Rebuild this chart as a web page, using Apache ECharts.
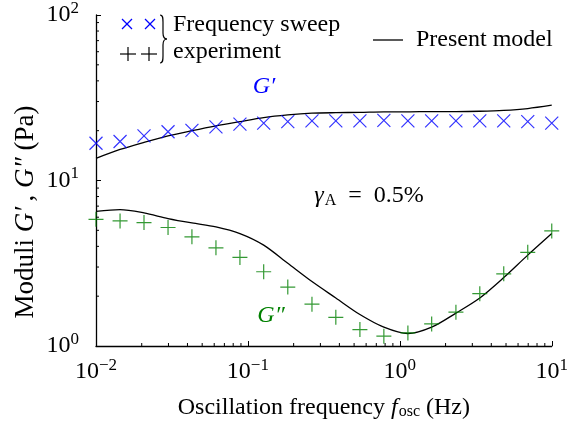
<!DOCTYPE html>
<html>
<head>
<meta charset="utf-8">
<script src="https://cdn.jsdelivr.net/npm/echarts@6/dist/echarts.min.js"></script>
<style>
  html, body { margin: 0; padding: 0; background: #fff; }
  #chart { width: 571px; height: 426px; }
</style>
</head>
<body>
<div id="chart"></div>
<script>
// oscillation frequency (Hz), same grid for sweep and model
const freq = [0.01, 0.0144, 0.0207, 0.0298, 0.0428, 0.0616, 0.0886, 0.127, 0.183, 0.264,
              0.379, 0.546, 0.785, 1.13, 1.62, 2.34, 3.36, 4.83, 6.95, 10];
// frequency sweep experiment (Pa)
const gStorageExp = [16.8, 17.2, 18.6, 19.7, 20.1, 21.1, 21.9, 22.2, 22.7, 22.9,
                     22.9, 22.9, 23.1, 22.9, 22.9, 22.9, 22.9, 22.9, 22.7, 22.2];
const gLossExp = [5.83, 5.70, 5.57, 5.20, 4.57, 3.92, 3.43, 2.81, 2.27, 1.79,
                  1.49, 1.256, 1.146, 1.20, 1.36, 1.60, 2.07, 2.73, 3.68, 4.96];
// present model (Pa)
const gStorageModel = [13.6, 15.4, 17.0, 18.6, 20.0, 21.4, 22.7, 24.0, 24.9, 25.5,
                       25.7, 25.8, 26.0, 26.0, 26.1, 26.1, 26.2, 26.5, 27.2, 28.5];
const gLossModel = [6.51, 6.67, 6.37, 5.89, 5.54, 5.25, 4.78, 4.07, 3.16, 2.45,
                    1.95, 1.55, 1.30, 1.19, 1.30, 1.58, 1.95, 2.59, 3.54, 4.78];
// minor tick positions
const xMinor = [0.02, 0.03, 0.04, 0.05, 0.06, 0.07, 0.08, 0.09,
                0.2, 0.3, 0.4, 0.5, 0.6, 0.7, 0.8, 0.9,
                2, 3, 4, 5, 6, 7, 8, 9];
const yMinor = [2, 3, 4, 5, 6, 7, 8, 9, 20, 30, 40, 50, 60, 70, 80, 90];

const FONT = 'Liberation Serif';
const BLUE = '#0000ff';
const GREEN = '#008000';
const CROSS = 'path://M0,0 L10,10 M10,0 L0,10';
const PLUS = 'path://M5,0 L5,10 M0,5 L10,5';

const pair = (xs, ys) => xs.map((x, i) => [x, ys[i]]);

const chart = echarts.init(document.getElementById('chart'), null, { renderer: 'canvas' });

function powLabel(v) {
  const e = Math.round(Math.log10(v));
  return '10{s|' + (e < 0 ? '\u2212' + (-e) : e) + '}';
}
const labelRich = {
  s: { fontSize: 17, fontFamily: FONT, color: '#000', padding: [0, 0, 13, 0] }
};

function tickItem(isX) {
  return function (params, api) {
    const p = api.coord([api.value(0), api.value(1)]);
    const len = 3;
    return {
      type: 'line',
      shape: isX ? { x1: p[0], y1: p[1], x2: p[0], y2: p[1] - len }
                 : { x1: p[0], y1: p[1], x2: p[0] + len, y2: p[1] },
      style: { stroke: '#000', lineWidth: 1 },
      silent: true
    };
  };
}

// small helpers for the hand-made legend
const seg = (x1, y1, x2, y2, color) => ({
  type: 'line', shape: { x1, y1, x2, y2 }, style: { stroke: color, lineWidth: 1.2 }, silent: true
});
const curve = (x1, y1, cpx1, cpy1, cpx2, cpy2, x2, y2) => ({
  type: 'bezierCurve', shape: { x1, y1, cpx1, cpy1, cpx2, cpy2, x2, y2 },
  style: { stroke: '#000', lineWidth: 1.2, fill: null }, silent: true
});

const option = {
  animation: false,
  textStyle: { fontFamily: FONT },
  grid: { left: 96, top: 13, width: 459, height: 333 },
  xAxis: {
    type: 'log',
    min: 0.01,
    max: 10,
    logBase: 10,
    name: 'Oscillation frequency {i|f}{sub|osc} (Hz)',
    nameLocation: 'middle',
    nameGap: 49,
    nameTextStyle: {
      fontSize: 24, color: '#000', fontFamily: FONT,
      rich: {
        i: { fontSize: 24, fontStyle: 'italic', fontFamily: FONT, color: '#000' },
        sub: { fontSize: 16, fontFamily: FONT, color: '#000', padding: [9, 0, 0, 1] }
      }
    },
    axisLine: { lineStyle: { color: '#000', width: 1.3 } },
    axisTick: { inside: true, length: 5, lineStyle: { color: '#000', width: 1 } },
    axisLabel: { formatter: powLabel, fontSize: 24, color: '#000', margin: 11, rich: labelRich },
    splitLine: { show: false }
  },
  yAxis: {
    type: 'log',
    min: 1,
    max: 100,
    logBase: 10,
    axisLine: { show: true, lineStyle: { color: '#000', width: 1.3 } },
    axisTick: { show: true, inside: true, length: 5, lineStyle: { color: '#000', width: 1 } },
    axisLabel: { formatter: powLabel, fontSize: 24, color: '#000', margin: 17, rich: labelRich },
    splitLine: { show: false }
  },
  graphic: [
    {
      type: 'text', x: 26, y: 212, rotation: Math.PI / 2,
      style: {
        text: 'Moduli {i|G\u2032}\u2009, {i|G\u2033} (Pa)',
        fontSize: 27, fontFamily: FONT, fill: '#000', align: 'center', verticalAlign: 'middle',
        rich: { i: { fontSize: 27, fontStyle: 'italic', fontFamily: FONT, fill: '#000' } }
      }
    },
    {
      type: 'text', x: 264, y: 87,
      style: { text: 'G\u2032', fontSize: 24, fontStyle: 'italic', fontFamily: FONT, fill: BLUE, align: 'center', verticalAlign: 'middle' }
    },
    {
      type: 'text', x: 271, y: 316,
      style: { text: 'G\u2033', fontSize: 24, fontStyle: 'italic', fontFamily: FONT, fill: GREEN, align: 'center', verticalAlign: 'middle' }
    },
    {
      type: 'text', x: 369, y: 196,
      style: {
        text: '{i|\u03b3}{sub|A}\u2002=\u20020.5%',
        fontSize: 24, fontFamily: FONT, fill: '#000', align: 'center', verticalAlign: 'middle',
        rich: {
          i: { fontSize: 24, fontStyle: 'italic', fontFamily: FONT, fill: '#000' },
          sub: { fontSize: 16, fontFamily: FONT, fill: '#000', padding: [9, 0, 0, 1] }
        }
      }
    },
    // legend markers
    seg(122, 19, 132, 29, BLUE), seg(132, 19, 122, 29, BLUE),
    seg(145, 19, 155, 29, BLUE), seg(155, 19, 145, 29, BLUE),
    seg(120, 54, 136, 54, '#000'), seg(128, 47, 128, 61, '#000'),
    seg(141, 54, 157, 54, '#000'), seg(149, 47, 149, 61, '#000'),
    // brace
    curve(160, 15, 163, 15, 163, 18, 163, 22),
    seg(163, 22, 163, 33, '#000'),
    curve(163, 33, 163, 37, 164, 39, 167, 39),
    curve(167, 39, 164, 39, 163, 41, 163, 45),
    seg(163, 45, 163, 56, '#000'),
    curve(163, 56, 163, 60, 163, 63, 160, 63),
    {
      type: 'text', x: 173, y: 25,
      style: { text: 'Frequency sweep', fontSize: 24, fontFamily: FONT, fill: '#000', verticalAlign: 'middle' }
    },
    {
      type: 'text', x: 173, y: 52,
      style: { text: 'experiment', fontSize: 24, fontFamily: FONT, fill: '#000', verticalAlign: 'middle' }
    },
    {
      type: 'line', shape: { x1: 373, y1: 40, x2: 403, y2: 40 },
      style: { stroke: '#000', lineWidth: 1.3 }
    },
    {
      type: 'text', x: 416, y: 40,
      style: { text: 'Present model', fontSize: 24, fontFamily: FONT, fill: '#000', verticalAlign: 'middle' }
    }
  ],
  series: [
    {
      name: 'G\' model', type: 'line', data: pair(freq, gStorageModel),
      showSymbol: false, smooth: 0.3, lineStyle: { color: '#000', width: 1.3 }, z: 3
    },
    {
      name: 'G\'\' model', type: 'line', data: pair(freq, gLossModel),
      showSymbol: false, smooth: 0.3, lineStyle: { color: '#000', width: 1.3 }, z: 3
    },
    {
      name: 'G\' experiment', type: 'scatter', data: pair(freq, gStorageExp),
      symbol: CROSS, symbolSize: 13,
      itemStyle: { color: 'transparent', borderColor: BLUE, borderWidth: 1.2 }, z: 4
    },
    {
      name: 'G\'\' experiment', type: 'scatter', data: pair(freq, gLossExp),
      symbol: PLUS, symbolSize: 15,
      itemStyle: { color: 'transparent', borderColor: GREEN, borderWidth: 1.2 }, z: 4
    },
    {
      type: 'custom', data: xMinor.map(v => [v, 1]), renderItem: tickItem(true),
      silent: true, clip: false, z: 5
    },
    {
      type: 'custom', data: yMinor.map(v => [0.01, v]), renderItem: tickItem(false),
      silent: true, clip: false, z: 5
    }
  ]
};

chart.setOption(option);
</script>
</body>
</html>
